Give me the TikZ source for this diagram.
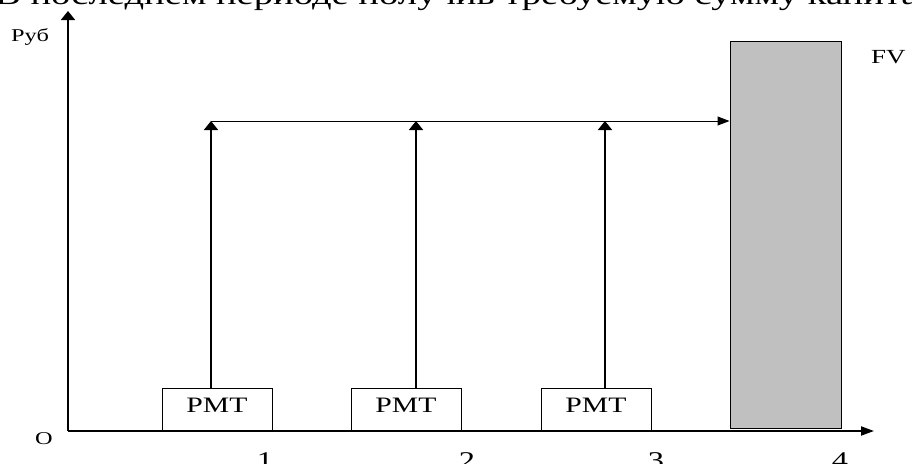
\documentclass[tikz,border=0pt]{standalone}
\usepackage{fontspec}
\setmainfont{Liberation Serif}[FakeStretch=1.35]
\usetikzlibrary{arrows.meta, positioning}
\definecolor{fvgray}{RGB}{192,192,192}
\tikzset{
  yaxis/.style={line width=1.9pt, -{Triangle[length=9pt,width=14pt]}},
  xaxis/.style={line width=1.9pt, -{Triangle[length=13pt,width=9pt]}},
  flow/.style={line width=1.7pt, -{Triangle[length=9pt,width=14pt]}},
  sumline/.style={line width=1pt, -{Triangle[length=12pt,width=9pt]}},
  pmtbox/.style={draw, line width=0.8pt, minimum width=110pt, minimum height=42pt,
    inner sep=0pt, text height=14.6pt, text depth=8pt, font=\fontsize{22}{24}\selectfont},
  fvbox/.style={draw, fill=fvgray, line width=1pt, minimum width=111pt,
    minimum height=387pt, inner sep=0pt},
  lbl/.style={inner sep=0pt, font=\fontsize{#1}{#1}\selectfont}
}
\begin{document}
\begin{tikzpicture}[x=1pt, y=-1pt]
  \useasboundingbox (0,0) rectangle (912,463);
  \clip (0,0) rectangle (912,463);
  \node[lbl=28.6, anchor=base west] (title) at (-5,5)
    {В последнем периоде получив требуемую сумму капитала};
  \coordinate (o) at (68,431);
  \coordinate (ytip) at (68,11);
  \coordinate (xtip) at (874,431);
  \draw[yaxis] (o) -- (ytip);
  \draw[xaxis] (o) -- (xtip);
  \node[lbl=18, anchor=base west] (zero) at (35,444) {O};
  \node[lbl=18, anchor=base west] (rub) at (11,41) {Руб};
  \node[fvbox] (fv) at (785.5,234.5) {};
  \node[lbl=20, anchor=base west] (fvlabel) at (871,63) {FV};
  \node[pmtbox] (pmt1) at (217,409) {PMT};
  \node[pmtbox] (pmt2) at (406,409) {PMT};
  \node[pmtbox] (pmt3) at (596,409) {PMT};
  \coordinate (top1) at (211,121);
  \coordinate (top2) at (416,121);
  \coordinate (top3) at (605,121);
  \draw[sumline] (top1) -- (fv.west |- top1);
  \foreach \i in {1,2,3}
    \draw[flow] (pmt\i.north -| top\i) -- (top\i);
  \foreach \t/\x in {1/265, 2/467, 3/656, 4/840}
    \node[lbl=24, anchor=base] (period\t) at (\x,468) {\t};
\end{tikzpicture}
\end{document}
